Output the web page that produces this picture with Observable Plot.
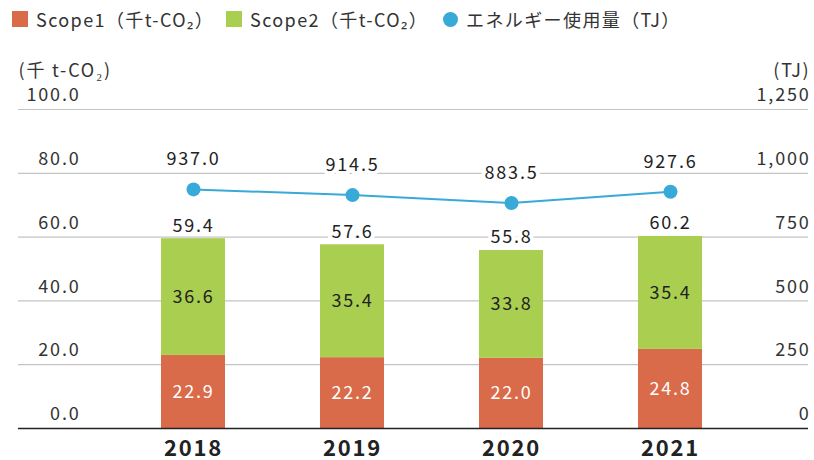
<!DOCTYPE html>
<html><head><meta charset="utf-8">
<script src="https://cdn.jsdelivr.net/npm/d3@7"></script>
<script src="https://cdn.jsdelivr.net/npm/@observablehq/plot@0.6"></script>
<style>
body{margin:0;background:#fff;font-family:"Noto Sans CJK JP","Noto Sans",sans-serif;color:#333;}
#legend{height:40px;font-size:18px;position:relative;letter-spacing:1.4px;}
.item{position:absolute;top:6px;display:flex;align-items:center;white-space:nowrap;}
.sw{width:16px;height:16px;margin-right:8px;}
.dt{width:15px;height:15px;border-radius:50%;margin-right:8px;}
svg text{letter-spacing:1.8px;}
</style></head>
<body>
<div id="legend"></div>
<div id="chart"></div>
<script>
const years = ["2018","2019","2020","2021"];
const scope1 = [22.9,22.2,22.0,24.8];
const scope2 = [36.6,35.4,33.8,35.4];
const totals = [59.4,57.6,55.8,60.2];
const energy = [937.0,914.5,883.5,927.6];
const leftTicks = [0,20,40,60,80,100];
const rightTicks = [0,250,500,750,1000,1250];
const seriesNames = ["Scope1（千t-CO₂）","Scope2（千t-CO₂）","エネルギー使用量（TJ）"];
const colors = ["#d96a4a","#aacf50","#39a9d8"];
const ratio = 12.5; // TJ per left unit (1250 / 100)

const leg = document.getElementById("legend");
const legX = [12,226,443];
seriesNames.forEach((n,i)=>{
  const it=document.createElement("div");it.className="item";it.style.left=legX[i]+"px";
  const s=document.createElement("div");s.className=i<2?"sw":"dt";s.style.background=colors[i];
  it.appendChild(s);it.appendChild(document.createTextNode(n));leg.appendChild(it);
});

const long = [];
years.forEach((y,i)=>{
  long.push({year:y, series:seriesNames[0], value:scope1[i]});
  long.push({year:y, series:seriesNames[1], value:scope2[i]});
});
const tot = years.map((y,i)=>({year:y, total:totals[i]}));
const en = years.map((y,i)=>({year:y, e:energy[i]}));
const order = seriesNames.slice(0,2);

const font = "Noto Sans CJK JP";
const chart = Plot.plot({
  width:814, height:420,
  marginLeft:18, marginRight:6, marginTop:69, marginBottom:32,
  style:{fontFamily:font, fontSize:"18px", color:"#333", background:"#fff"},
  x:{domain:years, range:[160,703], paddingInner:0.6, paddingOuter:0, axis:null},
  y:{domain:[0,100], axis:null},
  color:{domain:order, range:colors.slice(0,2)},
  marks:[
    Plot.ruleY(leftTicks.slice(1), {stroke:"#c4c4c4", strokeWidth:1.2}),
    Plot.barY(long, {x:"year", y:"value", fill:"series", z:"series", order}),
    Plot.ruleY([0], {stroke:"#222", strokeWidth:1.5}),
    Plot.text(leftTicks, {y:d=>d, frameAnchor:"left", dx:62, dy:-14, textAnchor:"end", text:d=>d.toFixed(1), fill:"#333", fontSize:18}),
    Plot.text(rightTicks, {y:d=>d/ratio, frameAnchor:"right", dx:2, dy:-14, textAnchor:"end", text:d=>d3.format(",")(d), fill:"#333", fontSize:18}),
    Plot.text(["(千 t-CO₂)"], {frameAnchor:"top-left", dx:0, dy:-45, textAnchor:"start", fill:"#333", fontSize:18}),
    Plot.text(["(TJ)"], {frameAnchor:"top-right", dx:2, dy:-45, textAnchor:"end", fill:"#333", fontSize:18}),
    Plot.text(long, Plot.stackY({x:"year", y:"value", z:"series", order, text:d=>d.series===order[0]?d.value.toFixed(1):"", fill:"white", fontSize:18})),
    Plot.text(long, Plot.stackY({x:"year", y:"value", z:"series", order, text:d=>d.series===order[1]?d.value.toFixed(1):"", fill:"#222", fontSize:18})),
    Plot.text(tot, {x:"year", y:"total", dy:-13, text:d=>d.total.toFixed(1), fill:"#222", stroke:"white", strokeWidth:8, fontSize:18}),
    Plot.line(en, {x:"year", y:d=>d.e/ratio, stroke:colors[2], strokeWidth:2}),
    Plot.dot(en, {x:"year", y:d=>d.e/ratio, r:7, fill:colors[2]}),
    Plot.text(en, {x:"year", y:d=>d.e/ratio, dy:-30, text:d=>d.e.toFixed(1), fill:"#222", stroke:"white", strokeWidth:8, fontSize:18}),
    Plot.text(years, {x:d=>d, frameAnchor:"bottom", dy:27, text:d=>d, fill:"#222", fontSize:22, fontWeight:"bold"})
  ]
});
document.getElementById("chart").appendChild(chart);
</script>
</body></html>
